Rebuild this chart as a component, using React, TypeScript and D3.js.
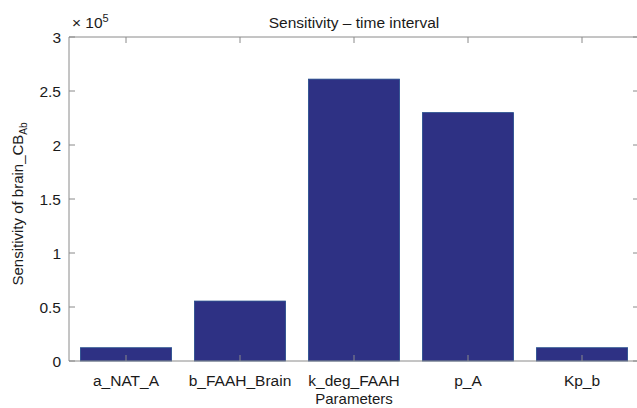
import React from "react";
import * as d3 from "d3";

const categories = ["a_NAT_A", "b_FAAH_Brain", "k_deg_FAAH", "p_A", "Kp_b"];
const values = [0.123, 0.555, 2.61, 2.30, 0.123];
const yTicks = [0, 0.5, 1, 1.5, 2, 2.5, 3];
const yTickLabels = ["0", "0.5", "1", "1.5", "2", "2.5", "3"];

const W = 637;
const H = 408;
const M = { left: 69, right: 639, top: 37, bottom: 361 };
const FONT = "'Liberation Sans', Arial, Helvetica, sans-serif";
const AX = "#8a8a8a";

export default function App() {
  const x = d3
    .scaleLinear()
    .domain([0.5, categories.length + 0.5])
    .range([M.left, M.right]);
  const y = d3.scaleLinear().domain([0, 3]).range([M.bottom, M.top]);
  const bw = (x(1) - x(0)) * 0.8;
  const tl = 6;

  return (
    <svg
      width={W}
      height={H}
      style={{ position: "absolute", left: 0, top: 0, background: "#fff" }}
      fontFamily={FONT}
    >
      <rect x={0} y={0} width={W} height={H} fill="#fff" />
      {values.map((v, i) => (
        <rect
          key={i}
          x={x(i + 1) - bw / 2}
          y={y(v)}
          width={bw}
          height={y(0) - y(v)}
          fill="#2e3184"
          stroke="#234d8c"
          strokeWidth={0.8}
        />
      ))}
      <line x1={M.left} x2={M.right} y1={M.top} y2={M.top} stroke={AX} />
      <line x1={M.left} x2={M.right} y1={M.bottom} y2={M.bottom} stroke={AX} />
      <line x1={M.left} x2={M.left} y1={M.top} y2={M.bottom} stroke={AX} />
      <line x1={M.right} x2={M.right} y1={M.top} y2={M.bottom} stroke={AX} />
      {categories.map((c, i) => (
        <g key={c}>
          <line x1={x(i + 1)} x2={x(i + 1)} y1={M.top} y2={M.top + tl} stroke={AX} />
          <line x1={x(i + 1)} x2={x(i + 1)} y1={M.bottom} y2={M.bottom - tl} stroke={AX} />
          <text
            x={x(i + 1)}
            y={M.bottom + 25}
            textAnchor="middle"
            fontSize={15.5}
            fill="#1a1a1a"
          >
            {c}
          </text>
        </g>
      ))}
      {yTicks.map((t, i) => (
        <g key={t}>
          <line x1={M.left} x2={M.left + tl} y1={y(t)} y2={y(t)} stroke={AX} />
          <line x1={M.right} x2={M.right - tl} y1={y(t)} y2={y(t)} stroke={AX} />
          <text
            x={M.left - 8}
            y={y(t)}
            dy="0.36em"
            textAnchor="end"
            fontSize={15.5}
            fill="#1a1a1a"
          >
            {yTickLabels[i]}
          </text>
        </g>
      ))}
      <text x={M.left + 3} y={M.top - 9} fontSize={15.5} fill="#1a1a1a">
        {"\u00d7 10"}
        <tspan dy={-6} fontSize={11}>5</tspan>
      </text>
      <text
        x={(M.left + M.right) / 2}
        y={M.top - 9}
        textAnchor="middle"
        fontSize={15.5}
        fill="#1a1a1a"
      >
        Sensitivity – time interval
      </text>
      <text
        x={(M.left + M.right) / 2}
        y={404}
        textAnchor="middle"
        fontSize={15}
        fill="#1a1a1a"
      >
        Parameters
      </text>
      <text
        transform={`translate(23, ${(M.top + M.bottom) / 2 + 5}) rotate(-90)`}
        textAnchor="middle"
        fontSize={15}
        fill="#1a1a1a"
      >
        Sensitivity of brain_CB
        <tspan dy={4} fontSize={10}>Ab</tspan>
      </text>
    </svg>
  );
}
